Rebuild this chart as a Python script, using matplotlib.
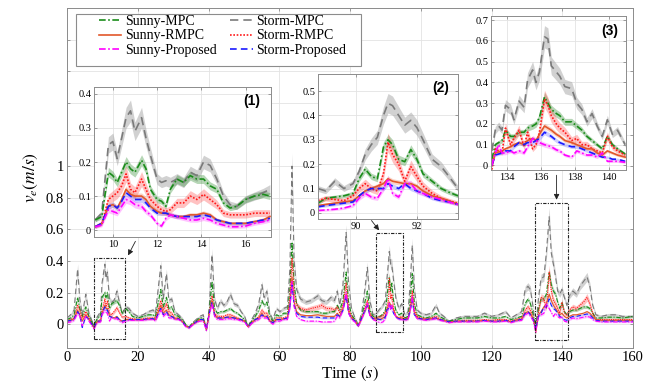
import numpy as np
import matplotlib
matplotlib.use('Agg')
import matplotlib.pyplot as plt
from matplotlib.lines import Line2D
from matplotlib.patches import Rectangle

plt.rcParams['font.family'] = ['Liberation Serif', 'DejaVu Serif']
plt.rcParams['mathtext.fontset'] = 'stix'

# ---------------- main trace (0-160 s) ----------------
T = [0, 1, 2, 3, 3.6, 4.3, 5.3, 6.2, 7.6, 8.6,
     9.5, 9.9, 10.7, 11.0, 11.4, 12.0, 12.6, 13.3, 14.1, 14.8,
     15.6, 16.6, 17.5, 18.5, 20, 21.5, 23, 24.3, 25, 26.5,
     27.2, 28.1, 28.8, 29.6, 30.5, 31.5, 32.5, 33.5, 34.5, 35.5,
     36.5, 37.5, 38.5, 39.4, 40.2, 41.0, 41.7, 42.5, 43.4, 44.3,
     45.2, 46.2, 47.2, 48.2, 49.2, 50.2, 51.2, 52.2, 53.2, 54.2,
     55.1, 55.7, 56.5, 57.3, 58.2, 59.2, 60.2, 61.2, 62.3, 63.0,
     63.6, 64.2, 64.9, 66, 67.5, 69, 70.9, 72, 73.3, 74.6,
     75.6, 76.4, 77.1, 78, 78.9, 79.6, 80.4, 81.4, 82.3, 83.3,
     84.3, 84.9, 85.6, 86.5, 87.5, 88.5, 89.3, 90, 90.4, 90.9,
     91.1, 91.5, 91.8, 92.3, 93, 93.8, 94.6, 95.5, 96.4, 97,
     97.6, 98.2, 99, 100, 101.5, 103, 104.3, 105.3, 106.5, 108,
     110, 112, 114, 116, 118, 120, 122, 124, 125.5, 127,
     128.5, 129.5, 130.3, 131, 131.8, 132.5, 133.3, 134, 134.8, 135.5,
     136.3, 136.9, 137.5, 138.1, 138.7, 139.3, 139.9, 140.6, 141.3, 142,
     143, 144, 145, 146, 147, 147.8, 148.6, 149.5, 151, 153, 155, 157, 160]

storm_mpc = [.04, .06, .09, .35, .16, .06, .19, .07, -.01, .05,
             .08, .26, .38, .29, .33, .16, .14, .15, .21, .14,
             .07, .11, .10, .07, .05, .06, .08, .09, .07, .37,
             .16, .32, .15, .16, .08, .06, .04, .00, -.02, .01,
             .03, .05, .06, -.04, .10, .44, .16, .10, .15, .12,
             .14, .19, .13, .12, .08, .05, -.01, .03, .07, .13,
             .25, .17, .21, .07, .03, .10, .08, .10, .11, .35,
             1.0, .40, .22, .16, .14, .15, .18, .15, .14, .17,
             .15, .21, .12, .25, .58, .26, .10, .04, .00, .07,
             .24, .36, .15, .06, .07, .10, .12, .15, .28, .40,
             .46, .38, .38, .28, .16, .10, .13, .06, .08, .25,
             .50, .22, .09, .07, .06, .07, .12, .07, .05, .02,
             .04, .05, .05, .05, .07, .05, .06, .08, .04, .06,
             .08, .22, .24, .22, .10, -.03, .17, .29, .30, .45,
             .68, .45, .38, .30, .21, .19, .22, .17, .12, .18,
             .21, .19, .24, .27, .30, .24, .12, .06, .05, .06, .06, .05, .05]

sunny_mpc = [.03, .04, .06, .17, .10, .05, .11, .05, -.01, .04,
             .06, .17, .20, .17, .20, .10, .13, .14, .15, .12,
             .07, .10, .08, .05, .04, .05, .06, .06, .05, .22,
             .11, .17, .10, .11, .06, .05, .03, .00, -.02, .01,
             .02, .04, .04, -.03, .08, .27, .10, .07, .08, .08,
             .09, .10, .08, .07, .05, .03, -.01, .02, .05, .09,
             .15, .12, .14, .05, .02, .06, .05, .07, .07, .22,
             .52, .25, .13, .09, .08, .08, .08, .07, .07, .08,
             .08, .12, .09, .15, .33, .14, .06, .03, -.01, .05,
             .15, .21, .09, .05, .05, .05, .065, .09, .16, .27,
             .30, .21, .26, .15, .085, .06, .07, .04, .05, .15,
             .32, .13, .06, .05, .04, .05, .07, .05, .035, .02,
             .03, .04, .04, .04, .05, .04, .04, .05, .03, .04,
             .05, .13, .16, .13, .06, -.03, .10, .16, .16, .19,
             .33, .25, .21, .19, .14, .10, .14, .08, .06, .08,
             .09, .09, .10, .11, .11, .10, .07, .04, .04, .045, .045, .04, .05]

storm_rmpc = [.02, .03, .04, .12, .09, .04, .08, .04, -.02, .02,
              .03, .09, .16, .11, .15, .07, .06, .08, .105, .075,
              .045, .05, .04, .035, .03, .035, .04, .04, .04, .15,
              .09, .13, .08, .07, .04, .04, .02, -.01, -.02, .0,
              .015, .03, .03, -.03, .07, .18, .07, .05, .05, .05,
              .06, .06, .05, .04, .03, .02, -.015, .01, .03, .05,
              .09, .07, .07, .03, .01, .04, .04, .04, .05, .17,
              .42, .20, .12, .10, .09, .10, .11, .12, .10, .10,
              .09, .11, .07, .12, .26, .10, .05, .02, -.01, .04,
              .11, .15, .07, .04, .04, .05, .055, .08, .10, .16,
              .29, .16, .19, .10, .05, .04, .05, .035, .04, .11,
              .21, .09, .05, .04, .035, .04, .05, .035, .025, .015,
              .02, .025, .025, .025, .03, .025, .03, .03, .02, .03,
              .04, .09, .11, .09, .04, -.05, .08, .17, .16, .10,
              .33, .21, .15, .13, .10, .07, .14, .07, .06, .09,
              .11, .10, .12, .14, .17, .13, .07, .03, .03, .03, .03, .03, .03]

sunny_rmpc = [.02, .025, .035, .09, .06, .02, .06, .03, -.02, .02,
              .02, .07, .12, .10, .10, .055, .045, .04, .05, .03,
              .02, .03, .03, .03, .03, .03, .035, .035, .03, .12,
              .07, .09, .06, .05, .035, .035, .02, -.01, -.02, .0,
              .015, .03, .03, -.03, .07, .15, .06, .04, .04, .04,
              .045, .045, .04, .035, .03, .02, -.015, .01, .03, .04,
              .07, .05, .05, .02, .01, .03, .03, .035, .04, .12,
              .30, .14, .08, .06, .055, .055, .06, .055, .05, .05,
              .05, .07, .05, .10, .19, .08, .04, .02, -.01, .04,
              .09, .13, .06, .035, .035, .03, .04, .05, .09, .12,
              .14, .12, .12, .09, .05, .04, .04, .03, .035, .09,
              .17, .07, .04, .035, .03, .035, .04, .03, .025, .015,
              .02, .02, .02, .02, .025, .02, .02, .025, .015, .025,
              .03, .07, .08, .07, .03, -.04, .06, .08, .11, .13,
              .19, .15, .12, .10, .08, .06, .07, .05, .04, .05,
              .06, .06, .065, .07, .08, .07, .05, .03, .025, .025, .025, .025, .025]

storm_prop = [.02, .025, .035, .08, .06, -.02, .05, .03, -.02, .02,
              .02, .07, .11, .09, .09, .05, .045, .04, .045, .03,
              .02, .025, .03, .03, .03, .03, .035, .035, .03, .10,
              .06, .08, .05, .05, .035, .035, .02, -.01, -.02, .0,
              .015, .03, .03, -.03, .07, .14, .06, .04, .04, .04,
              .045, .045, .04, .035, .03, .02, -.015, .01, .03, .04,
              .06, .05, .05, .02, .01, .03, .03, .035, .04, .11,
              .25, .12, .07, .05, .045, .045, .045, .04, .04, .04,
              .04, .06, .05, .09, .18, .07, .04, .02, -.01, .04,
              .09, .12, .06, .035, .035, .03, .035, .045, .09, .10,
              .12, .11, .10, .07, .045, .035, .035, .03, .035, .09,
              .15, .06, .04, .035, .03, .035, .04, .03, .025, .015,
              .02, .02, .02, .02, .025, .02, .02, .025, .015, .025,
              .03, .07, .08, .06, .03, -.03, .05, .07, .11, .11,
              .16, .12, .10, .09, .07, .05, .04, .03, .025, .04,
              .05, .05, .055, .06, .065, .06, .04, .025, .02, .02, .02, .02, .02]

sunny_prop = [.01, .015, .025, .07, .05, -.01, .05, .02, -.03, .01,
              .015, .06, .09, .075, .07, .02, .045, .035, .035, .02,
              .01, .02, .025, .025, .025, .025, .03, .03, .02, .09,
              .05, .07, .04, .04, .03, .03, .015, -.015, -.025, -.005,
              .01, .02, .02, -.04, .06, .13, .05, .03, .03, .03,
              .035, .035, .03, .03, .02, .015, -.02, .005, .02, .03,
              .05, .04, .04, .015, .0, .02, .02, .03, .03, .10,
              .27, .11, .05, .03, .02, .02, .02, .015, .015, .015,
              .02, .05, .04, .09, .20, .07, .03, .015, -.015, .03,
              .09, .14, .05, .03, .02, .01, .015, .035, .065, .10,
              .14, .09, .12, .08, .045, .03, .03, .025, .03, .08,
              .18, .06, .035, .03, .025, .03, .035, .025, .02, .01,
              .015, .015, .015, .015, .02, .015, .015, .02, .01, .02,
              .025, .06, .07, .05, .02, -.05, .06, .06, .07, .13,
              .10, .075, .05, .07, .05, .04, .05, .02, .015, .03,
              .04, .035, .04, .045, .05, .045, .03, .02, .015, .015, .015, .015, .015]

# ---------------- inset (1): 9-17 s ----------------
T1 = [9.2, 9.5, 9.8, 10.0, 10.2, 10.4, 10.6, 10.8, 11.0, 11.3,
      11.5, 11.7, 12.0, 12.2, 12.4, 12.6, 12.9, 13.2, 13.5, 13.8,
      14.1, 14.4, 14.7, 15.0, 15.3, 15.6, 16.0, 16.4, 16.8, 17.1]
storm_mpc_1 = [.03, .05, .25, .26, .21, .27, .33, .35, .29, .33,
               .27, .22, .15, .14, .145, .14, .15, .14, .17, .16,
               .20, .19, .15, .10, .075, .07, .09, .10, .11, .12]
sunny_mpc_1 = [.03, .04, .17, .16, .14, .17, .20, .18, .17, .205,
               .18, .12, .09, .085, .07, .12, .15, .14, .16, .15,
               .15, .13, .12, .08, .065, .07, .09, .10, .105, .10]
storm_rmpc_1 = [.01, .02, .09, .10, .11, .13, .165, .12, .11, .15,
                .12, .09, .07, .06, .055, .06, .08, .08, .10, .09,
                .105, .09, .075, .05, .045, .045, .045, .05, .05, .05]
sunny_rmpc_1 = [.01, .02, .07, .075, .065, .09, .12, .105, .10, .10,
                .09, .07, .055, .05, .05, .045, .04, .04, .045, .045,
                .05, .045, .03, .025, .02, .02, .02, .025, .03, .04]
storm_prop_1 = [.01, .02, .07, .075, .065, .085, .11, .10, .09, .09,
                .08, .065, .05, .05, .05, .045, .04, .04, .04, .04,
                .045, .04, .03, .025, .02, .02, .02, .025, .03, .035]
sunny_prop_1 = [.01, .015, .06, .055, .05, .07, .09, .085, .075, .07,
                .055, .045, .02, .012, .035, .045, .04, .035, .03, .03,
                .035, .03, .02, .015, .01, .01, .012, .02, .025, .03]

# ---------------- inset (2): 88.7-93.4 s ----------------
T2 = [88.75, 89.0, 89.3, 89.6, 89.9, 90.1, 90.3, 90.5, 90.7, 90.9,
      91.05, 91.2, 91.4, 91.6, 91.8, 92.0, 92.2, 92.5, 92.8, 93.05, 93.35]
storm_mpc_2 = [.10, .09, .13, .10, .12, .17, .24, .28, .31, .40,
               .45, .44, .40, .36, .38, .35, .30, .22, .19, .15, .10]
sunny_mpc_2 = [.04, .06, .065, .07, .08, .14, .18, .15, .14, .27,
               .30, .28, .22, .21, .26, .22, .16, .13, .10, .085, .07]
storm_rmpc_2 = [.05, .06, .055, .05, .07, .10, .12, .10, .09, .16,
                .29, .24, .20, .13, .19, .15, .11, .08, .06, .05, .04]
sunny_rmpc_2 = [.03, .035, .04, .045, .05, .07, .09, .10, .11, .12,
                .14, .13, .125, .12, .12, .11, .09, .07, .06, .05, .035]
storm_prop_2 = [.025, .03, .035, .04, .045, .07, .09, .10, .10, .10,
                .12, .11, .10, .12, .10, .09, .08, .06, .05, .045, .035]
sunny_prop_2 = [.01, .012, .015, .02, .03, .06, .08, .065, .06, .10,
                .14, .08, .065, .12, .12, .09, .08, .065, .055, .045, .035]

# ---------------- inset (3): 133-141 s ----------------
T3 = [133.1, 133.3, 133.5, 133.7, 133.9, 134.2, 134.4, 134.7, 135.0, 135.2,
      135.5, 135.7, 135.9, 136.2, 136.4, 136.6, 136.9, 137.1, 137.4, 137.8,
      138.1, 138.4, 138.7, 139.0, 139.3, 139.6, 139.9, 140.2, 140.5, 140.95]
storm_mpc_3 = [.07, .17, .19, .17, .29, .27, .22, .31, .28, .41,
               .46, .40, .45, .62, .61, .48, .45, .43, .38, .37,
               .30, .27, .21, .25, .19, .14, .22, .15, .17, .10]
sunny_mpc_3 = [.03, .10, .11, .12, .17, .14, .14, .16, .16, .18,
               .19, .20, .23, .33, .30, .27, .25, .24, .21, .21,
               .19, .17, .14, .12, .10, .08, .14, .10, .08, .055]
storm_rmpc_3 = [-.02, .08, .07, .06, .18, .10, .13, .17, .09, .16,
                .08, .10, .16, .32, .29, .24, .20, .18, .16, .12,
                .13, .10, .10, .08, .07, .06, .14, .09, .07, .05]
sunny_rmpc_3 = [.0, .06, .065, .07, .08, .09, .10, .11, .10, .12,
                .13, .12, .15, .19, .18, .17, .15, .14, .12, .11,
                .10, .09, .08, .08, .06, .05, .07, .06, .05, .04]
storm_prop_3 = [.0, .05, .055, .06, .07, .07, .09, .11, .10, .11,
                .11, .12, .13, .16, .15, .14, .12, .11, .10, .09,
                .09, .08, .07, .06, .05, .04, .04, .03, .03, .02]
sunny_prop_3 = [.0, .06, .10, .06, .06, .07, .06, .07, .06, .09,
                .13, .12, .11, .10, .095, .09, .075, .07, .05, .04,
                .07, .06, .05, .05, .04, .06, .02, .02, .02, .015]

# label, line colour, dash pattern, band colour, band alpha, relative band width
STYLE = {
    'Storm-MPC':      ('#7a7a7a', (0, (5, 3)),          '#9a9a9a', 0.45, 0.08),
    'Sunny-MPC':      ('#1a8c1a', (0, (4, 1.5, 1, 1.5)), '#2e8b2e', 0.35, 0.06),
    'Storm-RMPC':     ('#ff1a1a', (0, (1, 1)),          '#ff5050', 0.35, 0.12),
    'Sunny-RMPC':     ('#e2572b', '-',                  '#e8704a', 0.30, 0.05),
    'Storm-Proposed': ('#1a1aff', (0, (4, 2.5)),        '#5a5aff', 0.30, 0.05),
    'Sunny-Proposed': ('#ff00ff', (0, (4, 1.5, 1, 1.5)), '#ff55ff', 0.35, 0.08),
}
ORDER = ['Storm-MPC', 'Sunny-MPC', 'Storm-RMPC', 'Sunny-RMPC', 'Storm-Proposed', 'Sunny-Proposed']


def draw(ax, t, series, lw):
    t = np.asarray(t)
    for name in ORDER:
        v = np.asarray(series[name])
        col, ls, bcol, balpha, rel = STYLE[name]
        hw = rel * np.abs(v) + 0.004
        ax.fill_between(t, v - hw, v + hw, color=bcol, alpha=balpha, lw=0)
        ax.plot(t, v, color=col, linestyle=ls, lw=lw)


def style_axes(ax, size):
    for s in ax.spines.values():
        s.set_color('#8c8c8c')
        s.set_linewidth(0.7)
    ax.tick_params(direction='in', top=True, right=True, length=2.5,
                   width=0.6, color='#8c8c8c', labelsize=size, pad=2)
    ax.grid(color='#e3e3e3', lw=0.6)
    ax.set_axisbelow(True)


fig = plt.figure(figsize=(6.6, 3.87), dpi=100)
ax = fig.add_axes([67 / 660, 39 / 387, 566 / 660, 340 / 387])

draw(ax, T, {'Storm-MPC': storm_mpc, 'Sunny-MPC': sunny_mpc, 'Storm-RMPC': storm_rmpc,
             'Sunny-RMPC': sunny_rmpc, 'Storm-Proposed': storm_prop,
             'Sunny-Proposed': sunny_prop}, 0.8)
style_axes(ax, 10.5)
ax.set_xlim(0, 160)
ax.set_ylim(-0.15, 2.0)
ax.set_xticks(np.arange(0, 161, 20))
yt = np.round(np.arange(0, 2.01, 0.2), 1)
ax.set_yticks(yt)
ax.set_yticklabels([('%g' % y) if y <= 1 else '' for y in yt])
ax.set_xlabel('Time $(s)$', fontsize=12, labelpad=1)
ax.set_ylabel('$v_e(m/s)$', fontsize=12.5, labelpad=4)

# zoom boxes on the main trace
for x0, x1, y0, y1 in [(7.7, 16.5, -0.09, 0.42), (87.3, 94.9, -0.05, 0.58),
                       (132.2, 141.5, -0.10, 0.77)]:
    ax.add_patch(Rectangle((x0, y0), x1 - x0, y1 - y0, fill=False, ec='#222222',
                           lw=0.8, ls=(0, (3, 1.2, 1, 1.2)), zorder=5))

arrow = dict(arrowstyle='-|>', color='#222222', lw=0.6, mutation_scale=8)
ax.annotate('', xy=(16.9, 0.42), xytext=(19.7, 0.54), arrowprops=arrow)
ax.annotate('', xy=(88.7, 0.58), xytext=(85.6, 0.67), arrowprops=arrow)
ax.annotate('', xy=(138.4, 0.77), xytext=(138.4, 0.96), arrowprops=arrow)

# legend: handles only, frame drawn by hand
handles = [Line2D([], [], color=STYLE[n][0], linestyle=STYLE[n][1], lw=1.2)
           for n in ['Sunny-MPC', 'Sunny-RMPC', 'Sunny-Proposed',
                     'Storm-MPC', 'Storm-RMPC', 'Storm-Proposed']]
labels = ['Sunny-MPC', 'Sunny-RMPC', 'Sunny-Proposed',
          'Storm-MPC', 'Storm-RMPC', 'Storm-Proposed']
ax.add_patch(Rectangle((9 / 566, 282 / 340), 285 / 566, 52 / 340, transform=ax.transAxes,
                       fc='white', ec='#8c8c8c', lw=0.8, zorder=6))
leg = ax.legend(handles, labels, ncol=2, loc='upper left',
                bbox_to_anchor=(32 / 566, 333 / 340), frameon=False, fontsize=10,
                handlelength=1.6, handletextpad=0.25, columnspacing=1.0,
                labelspacing=0.1, borderpad=0, borderaxespad=0)
leg.set_zorder(7)

# insets
insets = [
    ([94, 87, 271, 237], T1, [storm_mpc_1, sunny_mpc_1, storm_rmpc_1, sunny_rmpc_1,
                               storm_prop_1, sunny_prop_1],
     (9.15, 17.15), (-0.02, 0.42), [10, 12, 14, 16], np.arange(0, 0.41, 0.1), '(1)'),
    ([318, 74, 458, 219], T2, [storm_mpc_2, sunny_mpc_2, storm_rmpc_2, sunny_rmpc_2,
                                storm_prop_2, sunny_prop_2],
     (88.75, 93.35), (-0.025, 0.57), [90, 92], np.arange(0, 0.51, 0.1), '(2)'),
    ([491, 16, 626, 170], T3, [storm_mpc_3, sunny_mpc_3, storm_rmpc_3, sunny_rmpc_3,
                                storm_prop_3, sunny_prop_3],
     (133.05, 141.0), (-0.022, 0.72), [134, 136, 138, 140], np.arange(0, 0.71, 0.1), '(3)'),
]
for (l, t, r, b), tt, vals, xl, yl, xt, ytk, tag in insets:
    ia = fig.add_axes([l / 660, (387 - b) / 387, (r - l) / 660, (b - t) / 387])
    ia.set_zorder(8)
    draw(ia, tt, dict(zip(ORDER, vals)), 1.2)
    style_axes(ia, 7.5)
    ia.set_xlim(*xl)
    ia.set_ylim(*yl)
    ia.set_xticks(xt)
    ia.set_yticks(ytk)
    ia.set_yticklabels(['%g' % round(y, 1) for y in ytk])
    ia.text(0.94, 0.95, tag, transform=ia.transAxes, ha='right', va='top',
            fontsize=10, fontweight='bold', family=['Liberation Sans', 'DejaVu Sans'])

fig.savefig('out.png', dpi=100)
